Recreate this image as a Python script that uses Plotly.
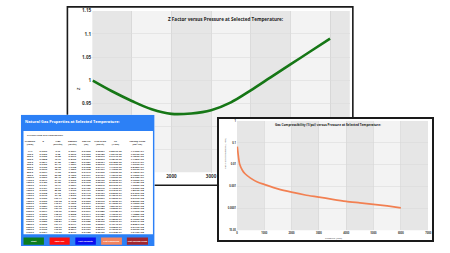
import plotly.graph_objects as go

W, H = 450, 253


def fx(x):
    return x / W


def fy(y):
    return 1 - y / H


# ---------------- data ----------------
# Main chart: Z factor vs pressure
z_pressure = [14.7, 500, 1000, 1500, 2000, 2500, 3000, 3500, 4000, 4500, 5000, 5500, 6000]
z_factor = [0.999, 0.976, 0.955, 0.937, 0.927, 0.928, 0.935, 0.952, 0.978, 1.006, 1.034, 1.062, 1.090]
z_xticks = [0, 1000, 2000, 3000, 4000, 5000, 6000]
z_xlabels = ["", "", "2000", "3000", "", "", ""]          # others are hidden behind the panels
z_yticks = [0.8, 0.85, 0.9, 0.95, 1.0, 1.05, 1.1, 1.15]
z_ylabels = ["", "", "", "0.95", "1", "1.05", "1.1", "1.15"]  # lower ones hidden behind the table

# Gas compressibility chart
cg_pressure = [14.7, 100, 200, 300, 500, 750, 1000, 1500, 2000, 2500, 3000, 3500, 4000, 4500, 5000, 5500, 6000]
cg_values = [0.066, 0.0105, 0.0055, 0.0038, 0.0024, 0.0016, 0.00125, 0.00078, 0.00055, 0.00041,
             0.00033, 0.00026, 0.00021, 0.00018, 0.000154, 0.00013, 0.000107]
cg_xticks = [0, 1000, 2000, 3000, 4000, 5000, 6000, 7000]
cg_yticks = [1e-5, 1e-4, 1e-3, 1e-2, 1e-1, 1]
cg_ylabels = ["1E-05", "0.0001", "0.001", "0.01", "0.1", "1"]

# Table
header_line1 = ["Pressure", "Z", "1/Bg", "Gasden", "Gas Vis", "Pres Grad", "Cg", "Pseudo Press"]
header_line2 = ["(Psia)", "", "(scf/ft3)", "(lb/ft3)", "(cp)", "(psi/ft)", "(1/psi)", "(psi²/cp)"]
col_pressure = ["14.7", "100.0", "200.0", "300.0", "400.0", "500.0", "600.0", "700.0", "800.0", "900.0",
                "1000.0", "1100.0", "1200.0", "1300.0", "1400.0", "1500.0", "1600.0", "1700.0", "1800.0",
                "1900.0", "2000.0", "2100.0", "2200.0", "2300.0", "2400.0", "2500.0", "2600.0", "2700.0",
                "2800.0", "2900.0", "3000.0", "3100.0"]
col_z = ["0.9993", "0.9952", "0.9905", "0.9858", "0.9811", "0.9765", "0.9720", "0.9676", "0.9634", "0.9593",
         "0.9553", "0.9517", "0.9483", "0.9451", "0.9421", "0.9393", "0.9368", "0.9346", "0.9326", "0.9309",
         "0.9295", "0.9284", "0.9276", "0.9271", "0.9269", "0.9270", "0.9275", "0.9283", "0.9295", "0.9310",
         "0.9330", "0.9354"]
col_invbg = ["0.79", "5.38", "10.82", "16.31", "21.85", "27.44", "33.08", "38.77", "44.50", "50.28", "56.10",
             "61.94", "67.82", "73.71", "79.64", "85.58", "91.53", "97.48", "103.44", "109.38", "115.31",
             "121.22", "127.10", "132.95", "138.76", "144.53", "150.23", "155.87", "161.44", "166.93",
             "172.32", "177.60"]
col_gasden = ["0.0391", "0.2672", "0.5373", "0.8100", "1.0851", "1.3627", "1.6428", "1.9253", "2.2099",
              "2.4969", "2.7859", "3.0760", "3.3679", "3.6604", "3.9549", "4.2499", "4.5454", "4.8409",
              "5.1368", "5.4318", "5.7263", "6.0198", "6.3118", "6.6023", "6.8908", "7.1774", "7.4604",
              "7.7405", "8.0171", "8.2898", "8.5574", "8.8196"]
col_gasvis = ["0.01260", "0.01263", "0.01268", "0.01274", "0.01281", "0.01289", "0.01298", "0.01308",
              "0.01319", "0.01331", "0.01344", "0.01358", "0.01373", "0.01389", "0.01406", "0.01424",
              "0.01443", "0.01462", "0.01482", "0.01503", "0.01524", "0.01546", "0.01568", "0.01591",
              "0.01614", "0.01637", "0.01661", "0.01685", "0.01709", "0.01733", "0.01757", "0.01782"]
col_presgrad = ["0.00027", "0.00186", "0.00373", "0.00563", "0.00754", "0.00946", "0.01141", "0.01337",
                "0.01535", "0.01734", "0.01935", "0.02136", "0.02339", "0.02542", "0.02746", "0.02951",
                "0.03157", "0.03362", "0.03567", "0.03772", "0.03977", "0.04180", "0.04383", "0.04585",
                "0.04785", "0.04984", "0.05181", "0.05375", "0.05567", "0.05757", "0.05943", "0.06125"]
col_cg = ["6.8077E-02", "1.0047E-02", "5.0474E-03", "3.3813E-03", "2.5480E-03", "2.0470E-03", "1.7127E-03",
          "1.4726E-03", "1.2930E-03", "1.1531E-03", "1.0390E-03", "9.4509E-04", "8.6733E-04", "8.0123E-04",
          "7.4429E-04", "6.9467E-04", "6.5000E-04", "6.1024E-04", "5.7556E-04", "5.4232E-04", "5.1300E-04",
          "4.8619E-04", "4.6055E-04", "4.3778E-04", "4.1667E-04", "3.9700E-04", "3.7862E-04", "3.6037E-04",
          "3.4314E-04", "3.2683E-04", "3.1033E-04", "2.9458E-04"]
col_pseudo = ["1.7152E+04", "7.9612E+05", "3.1872E+06", "7.1783E+06", "1.2771E+07", "1.9972E+07",
              "2.8785E+07", "3.9212E+07", "5.1253E+07", "6.4906E+07", "8.0168E+07", "9.7030E+07",
              "1.1548E+08", "1.3550E+08", "1.5706E+08", "1.8012E+08", "2.0463E+08", "2.3054E+08",
              "2.5779E+08", "2.8632E+08", "3.1606E+08", "3.4695E+08", "3.7893E+08", "4.1193E+08",
              "4.4588E+08", "4.8071E+08", "5.1635E+08", "5.5274E+08", "5.8981E+08", "6.2749E+08",
              "6.6572E+08", "7.0445E+08"]
table_columns = [col_pressure, col_z, col_invbg, col_gasden, col_gasvis, col_presgrad, col_cg, col_pseudo]

button_labels = ["Start", "Save CSV", "Plot Viscosity", "Plot Compress.", "Plot Pseudo Press"]
button_colors = ["#0b7d1e", "#ff1010", "#0a0ff0", "#f4845f", "#a3262e"]

# ---------------- styles / layout positions ----------------
FONT = "Open Sans"
GREEN = "#167716"
ORANGE = "#f28052"
BAND_DARK = "#e6e6e6"
BAND_LIGHT = "#f3f3f3"
PANEL_BLUE = "#2c80f6"

col_x = [29.3, 42.7, 57.3, 72.0, 86.0, 100.0, 115.5, 137.5]
row_top, row_step = 151.7, 2.65
button_x = [(22.7, 43.3), (49.0, 69.3), (75.0, 95.7), (101.0, 122.0), (127.0, 148.3)]

fig = go.Figure()

# main Z curve
fig.add_trace(go.Scatter(x=z_pressure, y=z_factor, mode="lines", xaxis="x", yaxis="y",
                         line=dict(color=GREEN, width=2.6, shape="spline"), hoverinfo="skip",
                         showlegend=False))

# table text (panel subplot, pixel coordinates of the panel)
rows_y = [row_top + i * row_step for i in range(len(col_pressure))]
tfont = dict(family=FONT, size=2.4, color="#333", weight="bold")
for cx, col in zip(col_x, table_columns):
    fig.add_trace(go.Scatter(x=[cx] * len(col), y=rows_y, text=col, mode="text", xaxis="x2", yaxis="y2",
                             textfont=tfont, hoverinfo="skip", showlegend=False, cliponaxis=False))
fig.add_trace(go.Scatter(x=col_x, y=[141.3] * len(col_x), text=header_line1, mode="text", xaxis="x2",
                         yaxis="y2", textfont=tfont, hoverinfo="skip", showlegend=False, cliponaxis=False))
fig.add_trace(go.Scatter(x=col_x, y=[144.4] * len(col_x), text=header_line2, mode="text", xaxis="x2",
                         yaxis="y2", textfont=tfont, hoverinfo="skip", showlegend=False, cliponaxis=False))
fig.add_trace(go.Scatter(x=[(a + b) / 2 for a, b in button_x], y=[243] * len(button_x), text=button_labels,
                         mode="text", xaxis="x2", yaxis="y2",
                         textfont=dict(family=FONT, size=2.2, color="white", weight="bold"),
                         hoverinfo="skip", showlegend=False, cliponaxis=False))

# Cg box frame subplot (empty)
fig.add_trace(go.Scatter(x=[None], y=[None], xaxis="x3", yaxis="y3", hoverinfo="skip", showlegend=False))

# Cg curve
fig.add_trace(go.Scatter(x=cg_pressure, y=cg_values, mode="lines", xaxis="x4", yaxis="y4",
                         line=dict(color=ORANGE, width=1.7, shape="spline", smoothing=0.6),
                         hoverinfo="skip", showlegend=False))

shapes = []
# main chart frame
shapes.append(dict(type="rect", xref="paper", yref="paper", x0=fx(67), x1=fx(355), y0=fy(186), y1=fy(4),
                   line=dict(color="#1a1a1a", width=1.6), fillcolor="rgba(0,0,0,0)", layer="below"))
# main bands
z_edges = z_xticks + [6500]
for i in range(len(z_edges) - 1):
    shapes.append(dict(type="rect", xref="x", yref="y", x0=z_edges[i], x1=z_edges[i + 1],
                       y0=z_yticks[0], y1=z_yticks[-1], line=dict(width=0),
                       fillcolor=BAND_DARK if i % 2 == 0 else BAND_LIGHT, layer="below"))
# table panel
shapes.append(dict(type="rect", xref="x2", yref="y2", x0=20, x1=155, y0=114, y1=248, line=dict(width=0),
                   fillcolor=PANEL_BLUE, layer="below"))
shapes.append(dict(type="rect", xref="x2", yref="y2", x0=22.7, x1=153.3, y0=130.7, y1=236,
                   line=dict(width=0), fillcolor="white", layer="below"))
for (a, b), c in zip(button_x, button_colors):
    shapes.append(dict(type="rect", xref="x2", yref="y2", x0=a, x1=b, y0=239.2, y1=246.7,
                       line=dict(width=0), fillcolor=c, layer="below"))
# Cg bands (data values on the log axis)
for i in range(len(cg_xticks) - 1):
    shapes.append(dict(type="rect", xref="x4", yref="y4", x0=cg_xticks[i], x1=cg_xticks[i + 1],
                       y0=cg_yticks[0], y1=cg_yticks[-1], line=dict(width=0),
                       fillcolor=BAND_DARK if i % 2 == 0 else BAND_LIGHT, layer="below"))


def ann(text, x, y, size, color="#222", bold=True, angle=0, xanchor="center"):
    return dict(text=text, x=fx(x), y=fy(y), xref="paper", yref="paper", showarrow=False,
                xanchor=xanchor, yanchor="middle", textangle=angle, borderpad=0,
                font=dict(family=FONT, size=size, color=color, weight="bold" if bold else "normal"))


annotations = [
    ann("Z Factor versus Pressure at Selected Temperature:", 227, 16, 4.6),
    ann("Z", 77.5, 87, 4, color="#444", angle=-90),
    ann("Natural Gas Properties at Selected Temperature:", 23, 120.5, 3.9, color="white", xanchor="left"),
    ann("CALCULATED GAS PROPERTIES:", 25, 134.3, 2.4, color="#333", xanchor="left"),
    ann("Gas Compressibility (1/psi) versus Pressure at Selected Temperature:", 330, 124.3, 3.1),
    ann("Gas Compressibility (1/psi)", 226, 153, 2.5, color="#444", bold=False, angle=-90),
    ann("Pressure (Psia)", 335, 240, 2.5, color="#444", bold=False),
]

hidden = dict(visible=False, fixedrange=True)
fig.update_layout(
    width=W, height=H, autosize=False, margin=dict(l=0, r=0, t=0, b=0, pad=0),
    paper_bgcolor="white", plot_bgcolor="white", showlegend=False,
    xaxis=dict(domain=[fx(92), fx(352)], range=[0, 6500], tickvals=z_xticks, ticktext=z_xlabels, anchor="y",
               showgrid=True, gridcolor="#d2d2d2", gridwidth=0.7, zeroline=False, ticks="",
               tickfont=dict(family=FONT, size=4.6, color="#333", weight="bold"), fixedrange=True),
    yaxis=dict(domain=[fy(173), fy(8)], range=[0.8, 1.15], tickvals=z_yticks, ticktext=z_ylabels,
               anchor="x", showgrid=True, gridcolor="#dcdcdc", gridwidth=0.6, zeroline=False, ticks="",
               tickfont=dict(family=FONT, size=4.6, color="#333", weight="bold"), fixedrange=True),
    xaxis2=dict(domain=[fx(20), fx(155)], range=[20, 155], anchor="y2", **hidden),
    yaxis2=dict(domain=[fy(248), fy(114)], range=[248, 114], anchor="x2", **hidden),
    xaxis3=dict(domain=[fx(220), fx(435)], range=[0, 1], anchor="y3", showline=True, mirror=True,
                linecolor="#1a1a1a", linewidth=1.6, showticklabels=False, showgrid=False, zeroline=False,
                ticks="", fixedrange=True),
    yaxis3=dict(domain=[fy(242), fy(118)], range=[0, 1], anchor="x3", showline=True, mirror=True,
                linecolor="#1a1a1a", linewidth=1.6, showticklabels=False, showgrid=False, zeroline=False,
                ticks="", fixedrange=True),
    xaxis4=dict(domain=[fx(238), fx(431)], range=[0, 7000], tickvals=cg_xticks, anchor="y4",
                showgrid=True, gridcolor="#d2d2d2", gridwidth=0.6, zeroline=False, ticks="",
                tickfont=dict(family=FONT, size=2.6, color="#333", weight="bold"), fixedrange=True),
    yaxis4=dict(type="log", domain=[fy(232), fy(120)], range=[-5, 0], tickvals=cg_yticks,
                ticktext=cg_ylabels, anchor="x4", showgrid=True, gridcolor="#d8d8d8", gridwidth=0.5,
                zeroline=False, ticks="",
                tickfont=dict(family=FONT, size=2.6, color="#333", weight="bold"), fixedrange=True),
    shapes=shapes, annotations=annotations,
)

fig.write_html("out.html", config={"displayModeBar": False, "staticPlot": True})
